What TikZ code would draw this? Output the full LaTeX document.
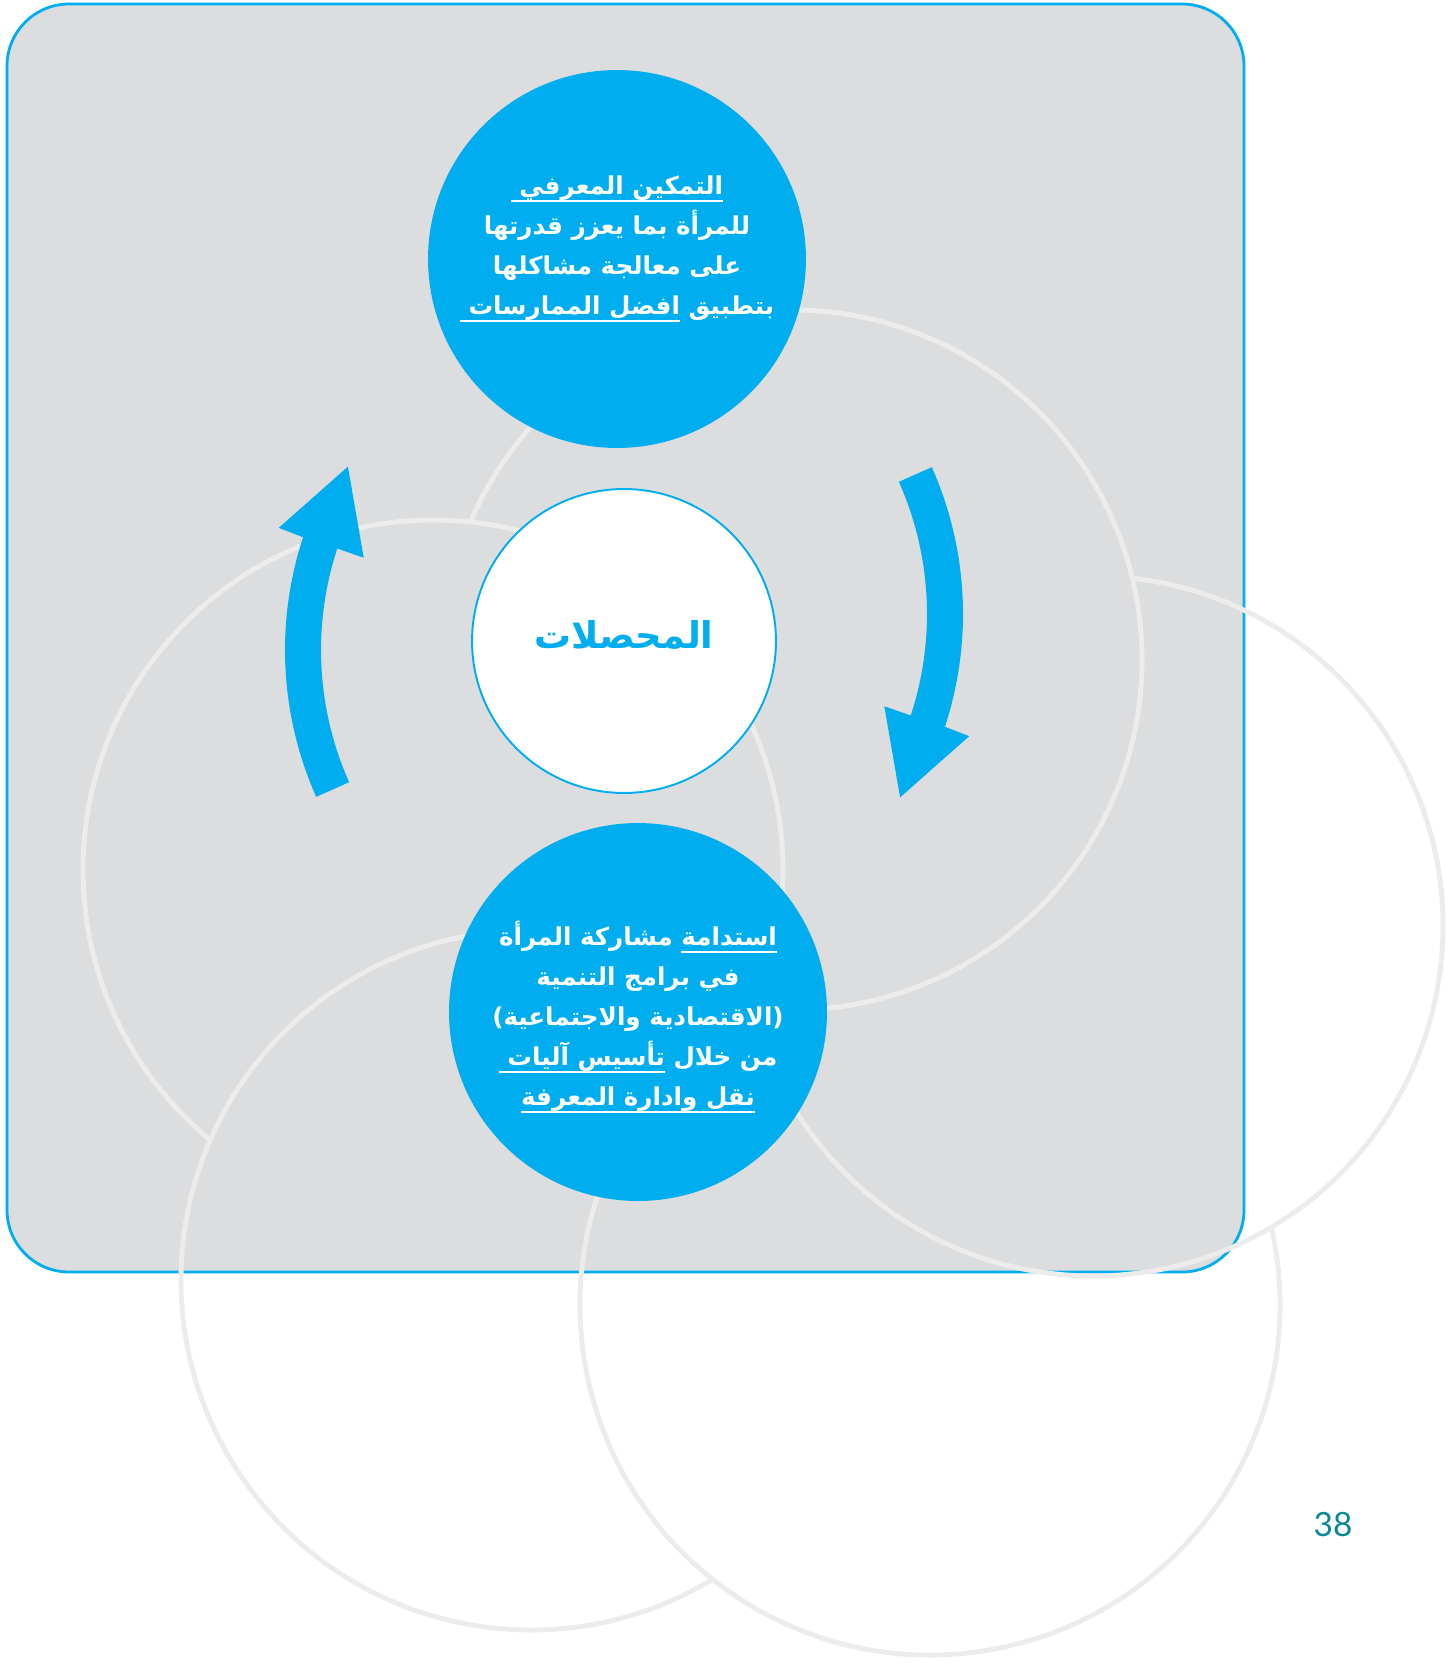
\documentclass[tikz,border=0pt]{standalone}
\usepackage{fontspec}
\usepackage{xcolor}
\setmainfont{Lato}
\newfontfamily\arabicfont[Script=Arabic]{DejaVu Sans}
\TeXXeTstate=1
\usepackage{tikz}
\usetikzlibrary{positioning}

\definecolor{brandcyan}{HTML}{00AEEF}
\definecolor{panelgray}{HTML}{DCDDDF}
\definecolor{ringgray}{HTML}{ECECEC}
\definecolor{pageteal}{HTML}{0A8794}

\newcommand{\ar}[1]{\beginR#1\endR}
\newbox\arulbox
\newcommand{\arul}[1]{\setbox\arulbox=\hbox{\beginR#1\endR}\dp\arulbox=0pt\vtop{\box\arulbox\kern0.22em\hrule height 0.07em}}

\tikzset{
  panel/.style={fill=panelgray, draw=brandcyan, line width=1.6pt, rounded corners=1.24cm},
  ring/.style={draw=ringgray, line width=2.8pt},
  bluecirc/.style={circle, fill=brandcyan, minimum size=7.56cm, inner sep=0pt},
  bluetext/.style={text=white, align=center, inner sep=0pt,
    font=\arabicfont\bfseries\fontsize{14}{22.7}\selectfont},
  whitecirc/.style={circle, fill=white, draw=brandcyan, line width=1.1pt, minimum size=6.08cm, inner sep=0pt},
  whitetext/.style={text=brandcyan, inner sep=0pt, font=\arabicfont\bfseries\fontsize{21}{25}\selectfont},
  cyclearrow/.style={fill=brandcyan}
}

\begin{document}
\begin{tikzpicture}[x=0.02cm, y=-0.02cm]
  \useasboundingbox (0,0) rectangle (1445,1663);

  % Panel
  \draw[panel] (7,4) rectangle (1244,1272);

  % Rings
  \foreach \cx/\cy/\sa/\ea in {792/660/203.2/456.4, 433/870/129.6/383.6, 531/1280/58.7/308.4,
                               930/1305/-12.9/239.4, 1093/926/276.4/526.5}
    \draw[ring] (\cx,\cy) ++(\sa:350) arc[start angle=\sa, end angle=\ea, radius=350];

  % Arrows
  \foreach \turn in {0,180}
    \fill[cyclearrow, rotate around={\turn:(624,632)}, shift={(646,650)}]
      (156:361) arc[start angle=156, end angle=198.2, radius=361]
      -- (198.4:387) -- (211.6:350) -- (198.1:297) -- (198.2:325)
      arc[start angle=198.2, end angle=156, radius=325] -- cycle;

  % Nodes
  \node at (617,259) (knowledge) [bluecirc] {};
  \node at (617,249) (knowledgetext) [bluetext] {\ar{\arul{التمكين المعرفي\ }}\\
    \ar{للمرأة بما يعزز قدرتها}\\
    \ar{على معالجة مشاكلها}\\
    \ar{بتطبيق \arul{افضل الممارسات\ }}};
  \node at (624,641) (outcomes) [whitecirc] {};
  \node at (624,635) (outcomestext) [whitetext] {\ar{المحصلات}};
  \node at (638,1012) (sustain) [bluecirc] {};
  \node at (638,1017) (sustaintext) [bluetext] {\ar{\arul{استدامة} مشاركة المرأة}\\
    \ar{في برامج التنمية}\\
    \ar{(الاقتصادية والاجتماعية)}\\
    \ar{من خلال \arul{تأسيس آليات\ }}\\
    \ar{\arul{نقل وادارة المعرفة}}};

  \node at (1333,1525) (pagenum) [text=pageteal, font=\fontsize{19}{19}\selectfont] {38};
\end{tikzpicture}
\end{document}
